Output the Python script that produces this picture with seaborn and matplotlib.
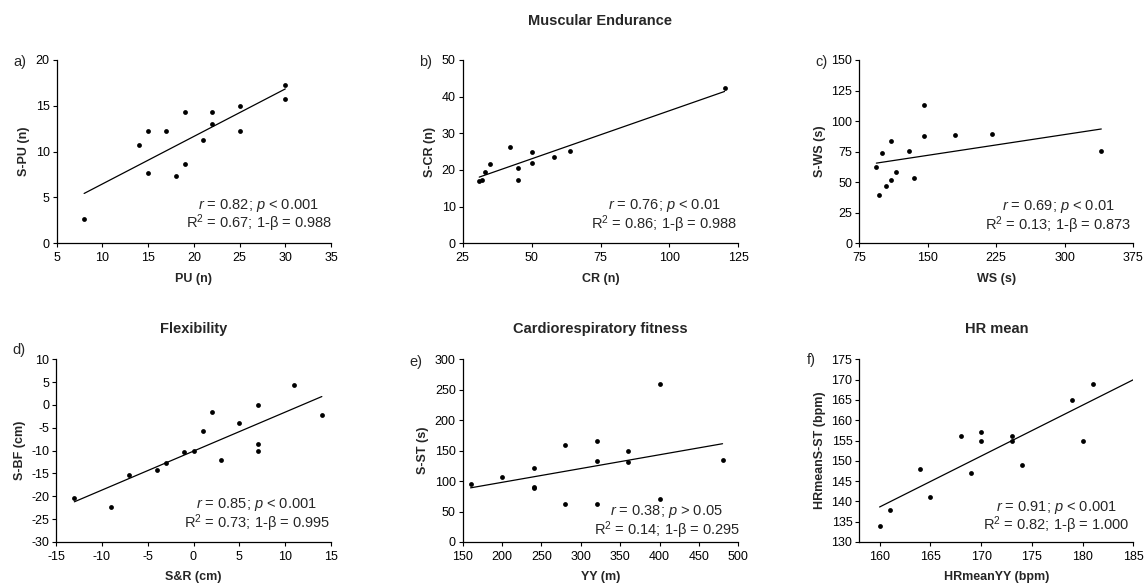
import numpy as np
import matplotlib
matplotlib.use("Agg")
import matplotlib.pyplot as plt
import seaborn as sns

# ---- data ----
a_x = [8, 14, 15, 15, 17, 18, 19, 19, 21, 22, 22, 25, 25, 30, 30]
a_y = [2.7, 10.7, 12.3, 7.7, 12.3, 7.3, 14.3, 8.7, 11.3, 14.3, 13.0, 15.0, 12.3, 17.3, 15.7]
b_x = [31, 32, 33, 35, 42, 45, 45, 50, 50, 58, 64, 120]
b_y = [17.0, 17.3, 19.5, 21.6, 26.3, 20.6, 17.3, 25.0, 22.0, 23.6, 25.3, 42.3]
c_x = [94, 97, 100, 105, 110, 110, 115, 130, 135, 146, 146, 180, 220, 340]
c_y = [62.7, 39.3, 74.2, 46.6, 83.4, 52.1, 58.1, 75.3, 53.2, 113.4, 87.5, 88.6, 89.2, 75.8]
d_x = [-13, -9, -7, -4, -3, -1, 0, 1, 2, 3, 5, 7, 7, 7, 11, 14]
d_y = [-20.4, -22.4, -15.3, -14.3, -12.7, -10.2, -10.0, -5.7, -1.5, -12.0, -3.9, 0.0, -8.5, -10.0, 4.4, -2.1]
e_x = [160, 200, 240, 240, 240, 280, 280, 320, 320, 320, 360, 360, 400, 400, 480]
e_y = [95, 107, 121, 90, 88, 160, 62, 166, 133, 62, 150, 132, 260, 71, 135]
f_x = [160, 161, 164, 165, 168, 169, 170, 170, 173, 173, 174, 179, 180, 181]
f_y = [134, 138, 148, 141, 156, 147, 157, 155, 156, 155, 149, 165, 155, 169]

panel_letters = ["a)", "b)", "c)", "d)", "e)", "f)"]
x_labels = ["PU (n)", "CR (n)", "WS (s)", "S&R (cm)", "YY (m)", "HRmeanYY (bpm)"]
y_labels = ["S-PU (n)", "S-CR (n)", "S-WS (s)", "S-BF (cm)", "S-ST (s)", "HRmeanS-ST (bpm)"]
stat_line1 = [("0.82", "<", "0.001"), ("0.76", "<", "0.01"), ("0.69", "<", "0.01"),
              ("0.85", "<", "0.001"), ("0.38", ">", "0.05"), ("0.91", "<", "0.001")]
stat_line2 = [("0.67", "0.988"), ("0.86", "0.988"), ("0.13", "0.873"),
              ("0.73", "0.995"), ("0.14", "0.295"), ("0.82", "1.000")]
x_ticks = [np.arange(5, 36, 5), np.arange(25, 126, 25), np.arange(75, 376, 75),
           np.arange(-15, 16, 5), np.arange(150, 501, 50), np.arange(160, 186, 5)]
y_ticks = [np.arange(0, 21, 5), np.arange(0, 51, 10), np.arange(0, 151, 25),
           np.arange(-30, 11, 5), np.arange(0, 301, 50), np.arange(130, 176, 5)]
x_lims = [(5, 35), (25, 125), (75, 375), (-15, 15), (150, 500), (158, 185)]
row2_titles = ["Flexibility", "Cardiorespiratory fitness", "HR mean"]
main_title = "Muscular Endurance"

xs_data = [a_x, b_x, c_x, d_x, e_x, f_x]
ys_data = [a_y, b_y, c_y, d_y, e_y, f_y]

# ---- style ----
sns.set_theme(style="ticks")
plt.rcParams['font.family'] = ['Liberation Sans', 'DejaVu Sans']
plt.rcParams['axes.unicode_minus'] = False
plt.rcParams['mathtext.fontset'] = 'custom'
plt.rcParams['mathtext.rm'] = 'Liberation Sans'
plt.rcParams['mathtext.it'] = 'Liberation Sans:italic'
plt.rcParams['mathtext.bf'] = 'Liberation Sans:bold'

W, H = 1148, 585
fig = plt.figure(figsize=(W / 100, H / 100), dpi=100)
fig.patch.set_facecolor('white')

# axes boxes in pixels: (left, top, right, bottom)
boxes = [(56.7, 60, 331, 243.3), (462.7, 60, 738.3, 243.3), (859, 60, 1133.3, 243.3),
         (56, 359.3, 331, 542), (462.7, 359.3, 738.3, 542), (859.3, 359.3, 1133.3, 542)]
text_pos = [(0.737, 0.187, 0.083), (0.732, 0.187, 0.078), (0.725, 0.182, 0.073),
            (0.73, 0.185, 0.079), (0.74, 0.148, 0.039), (0.72, 0.17, 0.066)]
letter_pos = [(13, 62), (419, 62), (815, 62), (12, 350), (409, 362), (807, 360)]
line_to_edge = [False, False, False, False, False, True]

axes = []
for i in range(6):
    l, t, r, b = boxes[i]
    ax = fig.add_axes([l / W, (H - b) / H, (r - l) / W, (b - t) / H])
    axes.append(ax)
    ax.set_facecolor('white')
    x = np.asarray(xs_data[i], float)
    y = np.asarray(ys_data[i], float)
    sns.scatterplot(x=x, y=y, ax=ax, color='black', s=12, linewidth=0, zorder=3)
    ax.set_xlim(*x_lims[i])
    ax.set_ylim(y_ticks[i][0], y_ticks[i][-1])
    coef = np.polyfit(x, y, 1)
    x_end = ax.get_xlim()[1] if line_to_edge[i] else x.max()
    lx = np.array([x.min(), x_end])
    sns.lineplot(x=lx, y=np.polyval(coef, lx), ax=ax, color='black', linewidth=0.9)
    ax.set_xticks(x_ticks[i])
    ax.set_yticks(y_ticks[i])
    ax.set_xlim(*x_lims[i])
    ax.set_ylim(y_ticks[i][0], y_ticks[i][-1])
    sns.despine(ax=ax)
    for s in ['left', 'bottom']:
        ax.spines[s].set_linewidth(0.9)
        ax.spines[s].set_color('black')
    ax.tick_params(axis='both', length=3, width=0.8, colors='black', labelsize=9)
    ax.tick_params(axis='x', pad=3.5)
    ax.tick_params(axis='y', pad=2)
    ax.set_xlabel(x_labels[i], fontsize=9, fontweight='bold', labelpad=6)
    ax.set_ylabel(y_labels[i], fontsize=9, fontweight='bold', labelpad=4)
    rr, cmp, pp = stat_line1[i]
    r2, pw = stat_line2[i]
    tx, ty1, ty2 = text_pos[i]
    ax.text(tx, ty1, r"$\mathit{r}$ = " + rr + "; " + r"$\mathit{p}$ " + cmp + " " + pp,
            transform=ax.transAxes, ha='center', va='baseline', fontsize=10.5)
    ax.text(tx, ty2, r"R$^{\mathrm{2}}$ = " + r2 + "; 1-β = " + pw,
            transform=ax.transAxes, ha='center', va='baseline', fontsize=10.5)
    lx_, ly_ = letter_pos[i]
    fig.text(lx_ / W, (H - ly_) / H, panel_letters[i], ha='left', va='center', fontsize=10.5)
    if i >= 3:
        fig.text(((l + r) / 2) / W, (H - 329) / H, row2_titles[i - 3], ha='center',
                 va='center', fontsize=10.5, fontweight='bold')

l, t, r, b = boxes[1]
fig.text(((l + r) / 2) / W, (H - 21) / H, main_title, ha='center', va='center',
         fontsize=10.5, fontweight='bold')

fig.savefig("out.png", dpi=100, facecolor='white')
